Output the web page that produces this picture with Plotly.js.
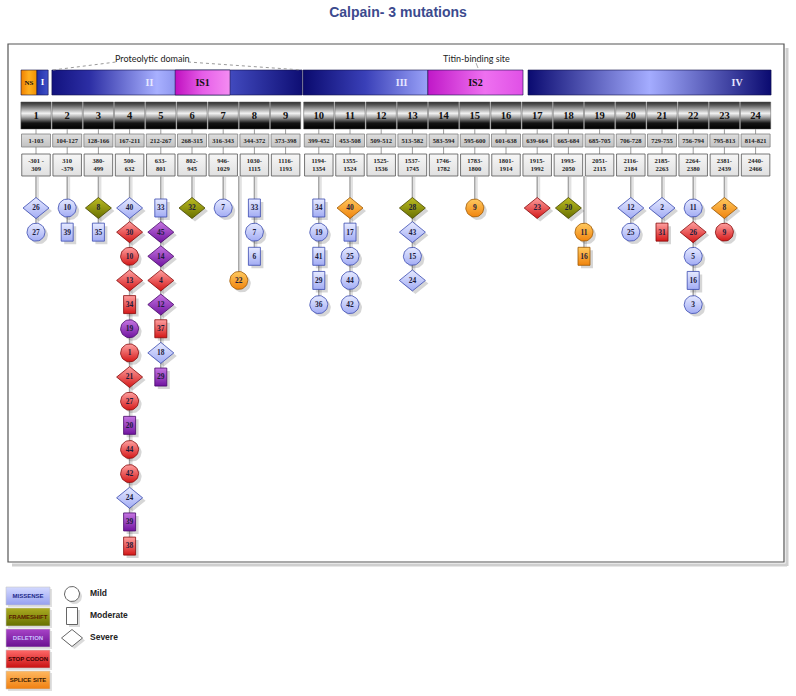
<!DOCTYPE html>
<html><head><meta charset="utf-8">
<script src="https://cdn.plot.ly/plotly-3.0.1.min.js"></script>
<style>html,body{margin:0;padding:0;background:#fff}#chart{width:796px;height:696px}</style>
</head><body><div id="chart"></div>
<script>
// ---------------- DATA ----------------
const exonNumbers = [1,2,3,4,5,6,7,8,9,10,11,12,13,14,15,16,17,18,19,20,21,22,23,24];
const aaRanges = ["1-103","104-127","128-166","167-211","212-267","268-315","316-343","344-372","373-398","399-452","453-508","509-512","513-582","583-594","595-600","601-638","639-664","665-684","685-705","706-728","729-755","756-794","795-813","814-821"];
const ntRanges = ["-301 -<br>309","310<br>-379","380-<br>499","500-<br>632","633-<br>801","802-<br>945","946-<br>1029","1030-<br>1115","1116-<br>1193","1194-<br>1354","1355-<br>1524","1525-<br>1536","1537-<br>1745","1746-<br>1782","1783-<br>1800","1801-<br>1914","1915-<br>1992","1993-<br>2050","2051-<br>2115","2116-<br>2184","2185-<br>2263","2264-<br>2380","2381-<br>2439","2440-<br>2466"];

// protein domains, in exon-axis units
const domainNames = ["NS","I","II","IS1","III","IS2","IV"];
const domainStart = [0.52,1.03,1.51,5.46,9.56,13.56,16.77];
const domainEnd   = [1.03,1.39,9.53,7.22,13.56,16.61,24.56];

// mutations (exon column, label, type, severity); x.5 = intronic
const mutExon = [1,1, 2,2, 3,3,
  4,4,4,4,4,4,4,4,4,4,4,4,4,4,4,
  5,5,5,5,5,5,5,5, 6, 7, 7.5, 8,8,8,
  10,10,10,10,10, 11,11,11,11,11, 13,13,13,13,
  15, 17, 18, 18.5,18.5, 20,20, 21,21, 22,22,22,22,22, 23,23];
const mutLabel = [26,27, 10,39, 8,35,
  40,30,10,13,34,19,1,21,27,20,44,42,24,39,38,
  33,45,14,4,12,37,18,29, 32, 7, 22, 33,7,6,
  34,19,41,29,36, 40,17,25,44,42, 28,43,15,24,
  9, 23, 20, 11,16, 12,25, 2,31, 11,26,5,16,3, 8,9];
const mutType = ["M","M", "M","M", "F","M",
  "M","S","S","S","S","D","S","S","S","D","S","S","M","D","S",
  "M","D","D","S","D","S","M","D", "F", "M", "P", "M","M","M",
  "M","M","M","M","M", "P","M","M","M","M", "F","M","M","M",
  "P", "S", "F", "P","P", "M","M", "M","S", "M","S","M","M","M", "P","S"];
const mutSeverity = ["severe","mild", "mild","moderate", "severe","moderate",
  "severe","severe","mild","severe","moderate","mild","mild","severe","mild","moderate","mild","mild","severe","moderate","moderate",
  "moderate","severe","severe","severe","severe","moderate","severe","moderate", "severe", "mild", "mild", "moderate","mild","moderate",
  "moderate","mild","moderate","moderate","mild", "severe","moderate","mild","mild","mild", "severe","severe","mild","severe",
  "mild", "severe", "severe", "mild","moderate", "severe","mild", "severe","moderate", "mild","severe","mild","moderate","mild", "severe","mild"];
const columnStartRow = {7.5: 3, 18.5: 1};

const typeCodes = ["M","F","D","S","P"];
const typeNames = ["MISSENSE","FRAMESHIFT","DELETION","STOP CODON","SPLICE SITE"];
const severityNames = ["Mild","Moderate","Severe"];
const severityCodes = ["mild","moderate","severe"];

// ---------------- GEOMETRY / STYLE ----------------
const PXE = 31.2, PX0 = 36;
const X = px => 1 + (px - PX0) / PXE;
const PX = x => PX0 + (x - 1) * PXE;
const colX = e => e + (e >= 10 ? 2 / PXE : 0);

const typeStyle = {
  M: {c: ["#e6eaff", "#a2acf4"], b: "#3a4ab0"},
  F: {c: ["#bcbc22", "#687000"], b: "#474700"},
  D: {c: ["#c676e2", "#7014a0"], b: "#46086a"},
  S: {c: ["#ffa0a0", "#d41818"], b: "#860a0a"},
  P: {c: ["#ffca60", "#f0840e"], b: "#a05800"}
};
const legendStyle = {
  M: {c: ["#d4daff", "#96a0f0"], t: "#1e2a8a"},
  F: {c: ["#acac22", "#667000"], t: "#5a1a00"},
  D: {c: ["#a844c8", "#6a1090"], t: "#c8c0ff"},
  S: {c: ["#ff6a6a", "#c81010"], t: "#3a0000"},
  P: {c: ["#ffb860", "#f08010"], t: "#3a1a00"}
};
const domainStyle = {
  NS: {cs: [[0,"#f08000"],[0.5,"#ffb020"],[1,"#f09000"]], t: "#111", lx: 0.5},
  I: {cs: [[0,"#2030a8"],[1,"#4050c8"]], t: "#ffffff", lx: 0.5},
  II: {cs: [[0,"#12127e"],[0.15,"#2c2ea4"],[0.42,"#a8b0ff"],[0.72,"#4048bc"],[1,"#0e0e74"]], t: "#e8e8ff", lx: 0.39},
  IS1: {cs: [[0,"#c010c0"],[0.5,"#e65ee8"],[1,"#f48cf2"]], t: "#111", lx: 0.5},
  III: {cs: [[0,"#0a0a6e"],[0.5,"#3a40b8"],[1,"#9aa2f8"]], t: "#e6e6ff", lx: 0.79},
  IS2: {cs: [[0,"#c018c8"],[0.6,"#ee70f0"],[1,"#e050e6"]], t: "#111", lx: 0.5},
  IV: {cs: [[0,"#0a0a70"],[0.5,"#a4acff"],[1,"#0a0a70"]], t: "#e6e6ff", lx: 0.86}
};

function rectPts(cx, cy, w, h) { return [[cx-w/2,cy-h/2],[cx+w/2,cy-h/2],[cx+w/2,cy+h/2],[cx-w/2,cy+h/2],[cx-w/2,cy-h/2]]; }
function diamondPts(cx, cy, w, h) { return [[cx,cy-h/2],[cx+w/2,cy],[cx,cy+h/2],[cx-w/2,cy],[cx,cy-h/2]]; }
function ellipsePts(cx, cy, rx, ry) { const p=[]; for (let i=0;i<=40;i++){const a=i/40*2*Math.PI; p.push([cx+rx*Math.cos(a), cy+ry*Math.sin(a)]);} return p; }
function multi(list) { const x=[], y=[]; list.forEach((pts,i)=>{ if(i){x.push(null);y.push(null);} pts.forEach(p=>{x.push(X(p[0]));y.push(p[1]);}); }); return {x,y}; }
function polyTrace(xy, fill, line, grad) {
  const t = {type:"scatter", mode:"lines", x:xy.x, y:xy.y, fill:"toself", hoverinfo:"skip", showlegend:false,
    line: line || {width:0, color:"rgba(0,0,0,0)"}};
  if (grad) t.fillgradient = grad; else t.fillcolor = fill;
  return t;
}
function vgrad(y0, y1, c) { return {type:"vertical", start:y0, stop:y1, colorscale:[[0,c[0]],[1,c[1]]]}; }
function textTrace(x, y, text, font, pos) {
  return {type:"scatter", mode:"text", x:x, y:y, text:text, textposition: pos || "middle center",
    textfont: font, hoverinfo:"skip", showlegend:false, cliponaxis:false};
}

const traces = [];

// ---- domain bars ----
const domY0 = 70, domY1 = 95;
domainNames.forEach((n, i) => {
  const x0 = PX(domainStart[i]), x1 = PX(domainEnd[i]);
  traces.push(polyTrace(multi([rectPts((x0+x1)/2, (domY0+domY1)/2, x1-x0, domY1-domY0)]), null,
    {color:"#10104a", width:0.6},
    {type:"horizontal", start:domainStart[i], stop:domainEnd[i], colorscale:domainStyle[n].cs}));
});
domainNames.forEach((n, i) => {
  const st = domainStyle[n];
  const fs = (n === "NS") ? 7 : (n === "I" ? 9 : 10);
  traces.push(textTrace([domainStart[i] + (domainEnd[i]-domainStart[i])*st.lx], [83], ["<b>"+n+"</b>"],
    {family:"Liberation Serif", size:fs, color:st.t}));
});

// ---- exon boxes ----
const exonPx = exonNumbers.map(e => PX(colX(e)));
traces.push(polyTrace(multi(exonPx.map(px => rectPts(px, 115.5, 30.2, 27))), null, {color:"#555", width:0.5},
  {type:"vertical", start:102, stop:129, colorscale:[[0,"#2e2e2e"],[0.12,"#5a5a5a"],[0.42,"#f2f2f2"],[0.55,"#b0b0b0"],[0.78,"#141414"],[1,"#000"]]}));
traces.push(textTrace(exonNumbers.map(colX), exonNumbers.map(()=>116.5), exonNumbers.map(n=>"<b>"+n+"</b>"),
  {family:"Liberation Serif", size:10.5, color:"#111"}));

// stub ticks between rows
const stubs = [];
exonPx.forEach(px => { stubs.push([[px,129],[px,134]]); stubs.push([[px,147],[px,154]]); });
const stubXY = multi(stubs);
traces.push({type:"scatter", mode:"lines", x:stubXY.x, y:stubXY.y, line:{color:"#9a9a9a", width:1}, hoverinfo:"skip", showlegend:false});

// ---- range rows ----
traces.push(polyTrace(multi(exonPx.map(px => rectPts(px, 140.5, 29, 13))), null, {color:"#808080", width:0.8},
  vgrad(134, 147, ["#dedede", "#c2c2c2"])));
traces.push(textTrace(exonNumbers.map(colX), exonNumbers.map(()=>141), aaRanges.map(s=>"<b>"+s+"</b>"),
  {family:"Liberation Serif", size:6.5, color:"#222"}));
traces.push(polyTrace(multi(exonPx.map(px => rectPts(px, 165, 28.5, 22))), null, {color:"#555", width:0.8},
  vgrad(154, 176, ["#f6f6f6", "#e0e0e0"])));
traces.push(textTrace(exonNumbers.map(colX), exonNumbers.map(()=>165.5), ntRanges.map(s=>"<b>"+s+"</b>"),
  {family:"Liberation Serif", size:6.5, color:"#222"}));

// ---- mutation positions ----
const rowCount = {};
const mPx = [], mPy = [];
mutExon.forEach((e, i) => {
  if (rowCount[e] === undefined) rowCount[e] = columnStartRow[e] || 0;
  const r = rowCount[e]++;
  mPx.push(PX(colX(e)));
  mPy.push(208 + r * 24.15);
});
function shapePts(sev, cx, cy) {
  if (sev === "mild") return ellipsePts(cx, cy, 9, 9);
  if (sev === "moderate") return rectPts(cx, cy, 12, 18);
  return diamondPts(cx, cy, 26, 21);
}
function halfH(sev) { return sev === "severe" ? 10.5 : 9; }

// connectors
const cols = [...new Set(mutExon)];
const conn = [], connSh = [];
cols.forEach(e => {
  const idx = mutExon.map((v,i)=>v===e?i:-1).filter(i=>i>=0);
  const px = PX(colX(e));
  const last = Math.max(...idx.map(i=>mPy[i]));
  conn.push([[px,176],[px,last]]);
  connSh.push([[px+2,177],[px+2,last]]);
});
const cs = multi(connSh), cm = multi(conn);
traces.push({type:"scatter", mode:"lines", x:cs.x, y:cs.y, line:{color:"#e2e2e2", width:2}, hoverinfo:"skip", showlegend:false});
traces.push({type:"scatter", mode:"lines", x:cm.x, y:cm.y, line:{color:"#a4a4a4", width:1.5}, hoverinfo:"skip", showlegend:false});

// shadows
traces.push(polyTrace(multi(mutExon.map((e,i)=>shapePts(mutSeverity[i], mPx[i]+3, mPy[i]+3))), "rgba(0,0,0,0.16)"));

// markers
mutExon.forEach((e, i) => {
  const st = typeStyle[mutType[i]];
  const h = halfH(mutSeverity[i]);
  traces.push(polyTrace(multi([shapePts(mutSeverity[i], mPx[i], mPy[i])]), null, {color:st.b, width:0.8},
    vgrad(mPy[i]-h, mPy[i]+h, st.c)));
});
traces.push(textTrace(mPx.map(X), mPy.map(y=>y+0.5), mutLabel.map(v=>"<b>"+v+"</b>"),
  {family:"Liberation Serif", size:7.5, color:"#1c1c3c"}));

// ---- legend: mutation types ----
typeCodes.forEach((c, i) => {
  const cy = 596 + i*21;
  traces.push(polyTrace(multi([rectPts(30, cy+2, 44, 18)]), "rgba(0,0,0,0.12)"));
  traces.push(polyTrace(multi([rectPts(28, cy, 44, 18)]), null, {color:"#c8c8c8", width:0.6},
    vgrad(cy-9, cy+9, legendStyle[c].c)));
  traces.push(textTrace([X(28)], [cy], ["<b>"+typeNames[i]+"</b>"],
    {family:"Liberation Sans", size:6, color:legendStyle[c].t}));
});
// ---- legend: severity ----
const sevLegendY = [594, 616, 638];
severityCodes.forEach((s, i) => {
  const cy = sevLegendY[i];
  let pts;
  if (s === "mild") pts = ellipsePts(72, cy, 7.5, 7.5);
  else if (s === "moderate") pts = rectPts(72, cy, 11, 17);
  else pts = diamondPts(72, cy, 21, 17);
  traces.push(polyTrace(multi([pts.map(p=>[p[0]+2.5,p[1]+2.5])]), "rgba(0,0,0,0.14)"));
  traces.push(polyTrace(multi([pts]), "#ffffff", {color:"#555", width:0.9}));
  traces.push(textTrace([X(90)], [cy], ["<b>"+severityNames[i]+"</b>"],
    {family:"Liberation Sans", size:8.5, color:"#222"}, "middle right"));
});

// ---------------- LAYOUT ----------------
const shapes = [
  {type:"line", xref:"x", yref:"y", x0:X(787), x1:X(787), y0:48, y1:566, line:{color:"#cfcfcf", width:3}, layer:"below"},
  {type:"line", xref:"x", yref:"y", x0:X(12), x1:X(787), y0:565, y1:565, line:{color:"#cfcfcf", width:3}, layer:"below"},
  {type:"rect", xref:"x", yref:"y", x0:X(8), x1:X(784), y0:44, y1:562, line:{color:"#555", width:1.2}, fillcolor:"#fff", layer:"below"},
  {type:"line", xref:"x", yref:"y", x0:X(53), x1:X(116), y0:70, y1:62, line:{color:"#9a9a9a", width:1, dash:"dot"}},
  {type:"line", xref:"x", yref:"y", x0:X(188), x1:X(302), y0:62, y1:70, line:{color:"#9a9a9a", width:1, dash:"dot"}},
  {type:"line", xref:"x", yref:"y", x0:X(476), x1:X(478), y0:63, y1:68, line:{color:"#aaa", width:1}}
];
const annotations = [
  {xref:"x", yref:"y", x:X(152), y:58, text:"Proteolytic domain", showarrow:false, font:{family:"Lato", size:9, color:"#222"}},
  {xref:"x", yref:"y", x:X(476), y:58, text:"Titin-binding site", showarrow:false, font:{family:"Lato", size:9, color:"#222"}}
];
const layout = {
  width:796, height:696, autosize:false,
  margin:{l:0, r:0, t:0, b:0, pad:0},
  paper_bgcolor:"#fff", plot_bgcolor:"rgba(0,0,0,0)",
  title:{text:"<b>Calpain- 3 mutations</b>", font:{family:"Liberation Sans", size:14, color:"#3b4a8e"},
    x:0.5, xanchor:"center", xref:"paper", y:1-12/696, yanchor:"middle", yref:"container"},
  xaxis:{range:[X(0), X(796)], visible:false, showgrid:false, zeroline:false, fixedrange:true},
  yaxis:{range:[696, 0], visible:false, showgrid:false, zeroline:false, fixedrange:true},
  shapes:shapes, annotations:annotations, showlegend:false, hovermode:false
};
Plotly.newPlot("chart", traces, layout, {staticPlot:true, displayModeBar:false});
</script>
</body></html>
